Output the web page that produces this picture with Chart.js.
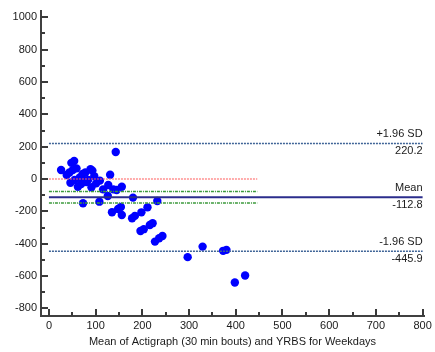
<!DOCTYPE html>
<html lang="en">
<head>
  <meta charset="UTF-8">
  <title>Bland-Altman plot</title>
  <script src="https://cdn.jsdelivr.net/npm/chart.js"></script>
  <style>
    body {
      margin: 0;
      background: #ffffff;
    }
    .chart-box {
      width: 435px;
      height: 352px;
    }
  </style>
</head>
<body>
  <div class="chart-box">
    <canvas id="myChart"></canvas>
  </div>

  <script>
    // Mean of the two methods (x) and their difference (y)
    const meanValues = [26, 48, 54, 38, 44, 51, 59, 72, 78, 89, 93, 97, 131, 143,
      46, 55, 62, 69, 75, 80, 91, 101, 109, 116, 127, 126, 108, 73, 145, 156,
      180, 232, 135, 148, 154, 156, 178, 184, 198, 211, 196, 203, 216, 222,
      227, 236, 243, 297, 329, 373, 380, 398, 420, 138, 66, 84];
    const diffValues = [56, 100, 112, 25, 40, 55, 66, 31, 40, 60, 52, 18, 27, 167,
      -23, -6, -48, -31, -12, -18, -51, -27, -10, -64, -37, -105, -140, -150, -68, -48,
      -115, -136, -205, -185, -173, -222, -243, -228, -206, -175, -321, -310, -284, -273,
      -387, -366, -352, -483, -418, -444, -438, -640, -597, -64, 10, -5];

    // Reference lines
    const meanDiff = -112.8;
    const upperLimit = 220.2;
    const lowerLimit = -445.9;
    const meanCI = [-76.8, -148.8];
    const shortLineEnd = 446;
    const longLineEnd = 800;

    // Axis ticks
    const xTicks = [0, 100, 200, 300, 400, 500, 600, 700, 800];
    const yTicks = [-800, -600, -400, -200, 0, 200, 400, 600, 800, 1000];

    const points = meanValues.map((m, i) => ({ x: m, y: diffValues[i] }));

    function hLine(y, x1, x2) {
      return [{ x: x1, y: y }, { x: x2, y: y }];
    }

    const fontFamily = 'Arial, "Liberation Sans", sans-serif';

    // inward tick marks (major + minor), MedCalc style
    const tickMarks = {
      id: 'tickMarks',
      afterDraw(chart) {
        const c = chart.ctx;
        const xs = chart.scales.x;
        const ys = chart.scales.y;
        const area = chart.chartArea;
        c.save();
        c.strokeStyle = '#3a3a3a';
        c.lineWidth = 2;
        c.beginPath();
        for (let v = 0; v <= 800; v += 50) {
          const px = Math.round(xs.getPixelForValue(v));
          const len = v % 100 === 0 ? 7 : 4;
          c.moveTo(px, area.bottom);
          c.lineTo(px, area.bottom - len);
        }
        for (let v = -800; v <= 1000; v += 100) {
          const py = Math.round(ys.getPixelForValue(v));
          const len = v % 200 === 0 ? 7 : 4;
          c.moveTo(area.left, py);
          c.lineTo(area.left + len, py);
        }
        c.stroke();
        c.restore();
      }
    };

    // labels of the limits of agreement
    const lineLabels = {
      id: 'lineLabels',
      afterDatasetsDraw(chart) {
        const c = chart.ctx;
        const ys = chart.scales.y;
        const xr = chart.scales.x.getPixelForValue(longLineEnd);
        const items = [
          ['+1.96 SD', upperLimit.toFixed(1), upperLimit],
          ['Mean', meanDiff.toFixed(1), meanDiff],
          ['-1.96 SD', lowerLimit.toFixed(1), lowerLimit]
        ];
        c.save();
        c.font = '11px ' + fontFamily;
        c.fillStyle = '#1a1a1a';
        c.textAlign = 'right';
        c.textBaseline = 'middle';
        items.forEach(it => {
          const py = ys.getPixelForValue(it[2]);
          c.fillText(it[0], xr, py - 9);
          c.fillText(it[1], xr, py + 8);
        });
        c.restore();
      }
    };

    const ctx = document.getElementById('myChart').getContext('2d');

    const config = {
      type: 'scatter',
      data: {
        datasets: [
          {
            label: 'Zero',
            data: hLine(0, 0, shortLineEnd),
            showLine: true,
            borderColor: '#ff5a5a',
            borderWidth: 1.2,
            borderDash: [2, 1],
            pointRadius: 0
          },
          {
            label: 'Upper CI mean',
            data: hLine(meanCI[0], 0, shortLineEnd),
            showLine: true,
            borderColor: '#3c9a3c',
            borderWidth: 1.5,
            borderDash: [3, 1, 1, 1],
            pointRadius: 0
          },
          {
            label: 'Lower CI mean',
            data: hLine(meanCI[1], 0, shortLineEnd),
            showLine: true,
            borderColor: '#3c9a3c',
            borderWidth: 1.5,
            borderDash: [3, 1, 1, 1],
            pointRadius: 0
          },
          {
            label: '+1.96 SD',
            data: hLine(upperLimit, 0, longLineEnd),
            showLine: true,
            borderColor: '#3f6497',
            borderWidth: 1.5,
            borderDash: [2, 1],
            pointRadius: 0
          },
          {
            label: '-1.96 SD',
            data: hLine(lowerLimit, 0, longLineEnd),
            showLine: true,
            borderColor: '#3f6497',
            borderWidth: 1.5,
            borderDash: [2, 1],
            pointRadius: 0
          },
          {
            label: 'Mean',
            data: hLine(meanDiff, 0, longLineEnd),
            showLine: true,
            borderColor: '#2b2d8c',
            borderWidth: 2,
            pointRadius: 0
          },
          {
            label: 'Differences',
            data: points,
            backgroundColor: '#0000ff',
            borderWidth: 0,
            pointRadius: 4.2,
            pointHoverRadius: 4.2
          }
        ]
      },
      options: {
        responsive: true,
        maintainAspectRatio: false,
        animation: false,
        layout: {
          padding: { top: 11, right: 11, left: 0, bottom: 0 }
        },
        plugins: {
          legend: { display: false },
          tooltip: { enabled: false }
        },
        scales: {
          x: {
            type: 'linear',
            min: -17,
            max: 803,
            afterBuildTicks: scale => {
              scale.ticks = xTicks.map(v => ({ value: v }));
            },
            afterFit: scale => {
              scale.height = 36;
            },
            grid: { display: false, drawTicks: false },
            border: { display: true, color: '#404040', width: 2 },
            ticks: {
              padding: 3,
              color: '#1a1a1a',
              maxRotation: 0,
              callback: v => String(v),
              font: { family: fontFamily, size: 11 }
            },
            title: {
              display: true,
              text: 'Mean of Actigraph (30 min bouts) and YRBS for Weekdays',
              color: '#1a1a1a',
              padding: { top: 2, bottom: 3 },
              font: { family: fontFamily, size: 11 }
            }
          },
          y: {
            type: 'linear',
            min: -847,
            max: 1039,
            afterBuildTicks: scale => {
              scale.ticks = yTicks.map(v => ({ value: v }));
            },
            afterFit: scale => {
              scale.width = 41;
            },
            grid: { display: false, drawTicks: false },
            border: { display: true, color: '#404040', width: 2 },
            ticks: {
              padding: 4,
              color: '#1a1a1a',
              callback: v => String(v),
              font: { family: fontFamily, size: 11 }
            }
          }
        }
      },
      plugins: [tickMarks, lineLabels]
    };

    const myChart = new Chart(ctx, config);
  </script>
</body>
</html>
